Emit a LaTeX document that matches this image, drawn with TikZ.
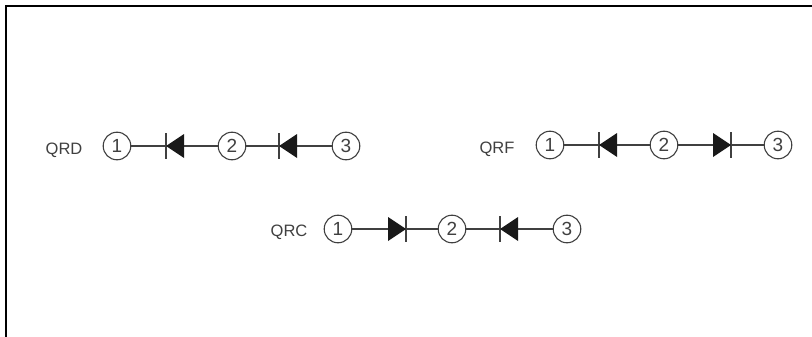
\documentclass[tikz,border=0pt]{standalone}
\usepackage{fontspec}
\setmainfont{Liberation Sans}
\usetikzlibrary{positioning}

\tikzset{
	site/.style={draw=black!75, line width=1.1pt, circle, minimum size=0.97cm, inner sep=0pt, font=\fontsize{19}{19}\selectfont, text=black!75},
	tag/.style={font=\fontsize{16.5}{16.5}\selectfont, text=black!75},
	wire/.style={draw=black!75, line width=1.1pt},
	dfill/.style={fill=black!90, draw=none},
}

\begin{document}
\begin{tikzpicture}[x=1pt, y=-1pt]

	% ------------------------------------------------
	% Frame of the picture
	\useasboundingbox (0,0) rectangle (812,337);
	\fill[white] (0,0) rectangle (812,337);
	\draw[line width=2pt] (6,337) -- (6,6) -- (812,6);

	% ----------------
	% QRD
	\node[tag] (QRDtag) at (64,150) {QRD};
	\node[site] (D1) at (117,146) {1};
	\node[site] (D2) at (232,146) {2};
	\node[site] (D3) at (346,146) {3};
	\coordinate (DBarA) at (166,146);
	\coordinate (DBarB) at (279,146);
	\draw[wire] (D1) -- (DBarA);
	\draw[wire] (D2) -- (DBarA);
	\draw[wire] (D2) -- (DBarB);
	\draw[wire] (D3) -- (DBarB);
	\draw[wire] (DBarA) +(0,-13) -- +(0,13);
	\draw[wire] (DBarB) +(0,-13) -- +(0,13);
	\fill[dfill] (DBarA) -- +(18,-12) -- +(18,12) -- cycle;
	\fill[dfill] (DBarB) -- +(18,-12) -- +(18,12) -- cycle;

	% ----------------
	% QRF
	\node[tag] (QRFtag) at (497,149) {QRF};
	\node[site] (F1) at (550,145) {1};
	\node[site] (F2) at (664,145) {2};
	\node[site] (F3) at (778,145) {3};
	\coordinate (FBarA) at (599,145);
	\coordinate (FBarB) at (731,145);
	\draw[wire] (F1) -- (FBarA);
	\draw[wire] (F2) -- (FBarA);
	\draw[wire] (F2) -- (FBarB);
	\draw[wire] (F3) -- (FBarB);
	\draw[wire] (FBarA) +(0,-13) -- +(0,13);
	\draw[wire] (FBarB) +(0,-13) -- +(0,13);
	\fill[dfill] (FBarA) -- +(18,-12) -- +(18,12) -- cycle;
	\fill[dfill] (FBarB) -- +(-18,-12) -- +(-18,12) -- cycle;

	% ----------------
	% QRC
	\node[tag] (QRCtag) at (289,232) {QRC};
	\node[site] (C1) at (338,229) {1};
	\node[site] (C2) at (452,229) {2};
	\node[site] (C3) at (567,229) {3};
	\coordinate (CBarA) at (406,229);
	\coordinate (CBarB) at (500,229);
	\draw[wire] (C1) -- (CBarA);
	\draw[wire] (C2) -- (CBarA);
	\draw[wire] (C2) -- (CBarB);
	\draw[wire] (C3) -- (CBarB);
	\draw[wire] (CBarA) +(0,-13) -- +(0,13);
	\draw[wire] (CBarB) +(0,-13) -- +(0,13);
	\fill[dfill] (CBarA) -- +(-18,-12) -- +(-18,12) -- cycle;
	\fill[dfill] (CBarB) -- +(18,-12) -- +(18,12) -- cycle;

\end{tikzpicture}
\end{document}
